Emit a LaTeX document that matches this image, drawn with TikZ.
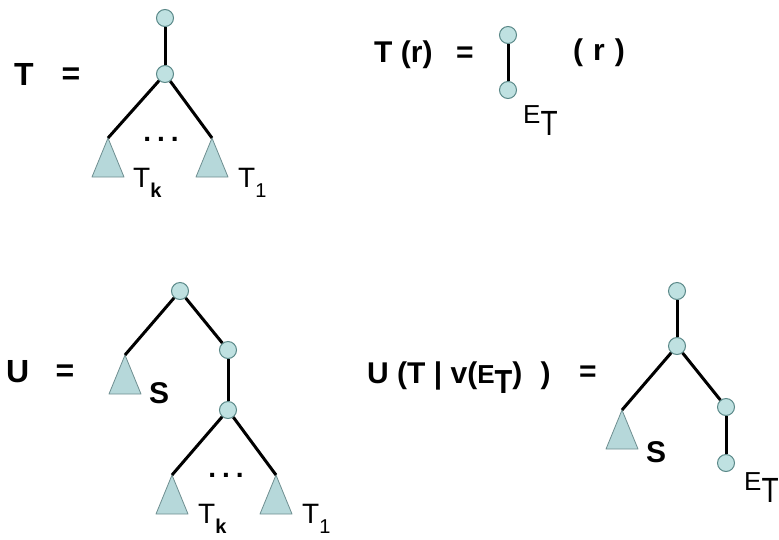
\documentclass[tikz,border=0pt]{standalone}
\usepackage{fontspec}
\setmainfont{Liberation Sans}
\definecolor{cfill}{HTML}{BFE1E1}
\definecolor{cline}{HTML}{5A8888}
\definecolor{tfill}{HTML}{B6D8DA}
\definecolor{tline}{HTML}{6E8E90}
\newcommand\subtri[1]{\draw[tri] (#1) -- ++(-16,39) -- ++(32,0) -- cycle;}
\newcommand\subk{\raisebox{-10pt}{\fontsize{20}{20}\selectfont\bfseries k}}
\newcommand\subone{\raisebox{-10pt}{\fontsize{20}{20}\selectfont 1}}
\newcommand\ET{{\fontsize{26}{26}\selectfont E}\raisebox{-12pt}{\scalebox{1}[1.25]{\fontsize{28}{28}\selectfont T}}}
\begin{document}
\begin{tikzpicture}[x=1pt,y=-1pt,
  vert/.style={circle, draw=cline, fill=cfill, line width=1pt, minimum size=17pt, inner sep=0pt},
  edge/.style={line width=3pt, black},
  tri/.style={draw=tline, fill=tfill, line width=0.8pt, line join=round},
  big/.style={font=\fontsize{30}{32}\selectfont\bfseries, inner sep=0pt},
  huge/.style={font=\fontsize{32}{34}\selectfont\bfseries, inner sep=0pt},
  lab/.style={font=\fontsize{28}{30}\selectfont, inner sep=0pt},
  dots/.style={font=\fontsize{28}{30}\selectfont\bfseries, inner sep=0pt}]
\useasboundingbox (0,0) rectangle (779,539);

% ---------- T = ----------
\node[huge, anchor=base west] (tT) at (14,85) {T};
\node[huge, anchor=base] (tEq) at (71,84) {=};
\node[vert] (a1) at (165,18) {};
\node[vert] (a2) at (165,74) {};
\coordinate (aL) at (108,138);
\coordinate (aR) at (212,138);
\subtri{aL}
\subtri{aR}
\draw[edge] (a1) -- (a2);
\draw[edge] (a2) -- (aL);
\draw[edge] (a2) -- (aR);
\node[dots] (aD) at (161,139) {.\hspace{6pt}.\hspace{6pt}.};
\node[lab, anchor=base west] (aTk) at (133,187) {T\subk};
\node[lab, anchor=base west] (aT1) at (238,187) {T\subone};

% ---------- T(r) = ----------
\node[big, anchor=base west] (rT) at (374,62) {T (r)};
\node[big, anchor=base] (rEq) at (465,62) {=};
\node[vert] (b1) at (508,35) {};
\node[vert] (b2) at (508,90) {};
\draw[edge] (b1) -- (b2);
\node[lab, anchor=base west] (bE) at (523,123) {\ET};
\node[big, anchor=base west] (rR) at (573,60) {(\,\,r\,\,)};

% ---------- U = ----------
\node[huge, anchor=base west] (uU) at (6,382) {U};
\node[huge, anchor=base] (uEq) at (65,381) {=};
\node[vert] (c1) at (180,291) {};
\node[vert] (c2) at (228,350) {};
\node[vert] (c3) at (228,410) {};
\coordinate (cS) at (125,355);
\coordinate (cL) at (172,475);
\coordinate (cR) at (276,475);
\subtri{cS}
\subtri{cL}
\subtri{cR}
\draw[edge] (c1) -- (cS);
\draw[edge] (c1) -- (c2);
\draw[edge] (c2) -- (c3);
\draw[edge] (c3) -- (cL);
\draw[edge] (c3) -- (cR);
\node[big, anchor=base west] (cSl) at (149,403) {S};
\node[dots] (cD) at (226,475) {.\hspace{6pt}.\hspace{6pt}.};
\node[lab, anchor=base west] (cTk) at (198,523) {T\subk};
\node[lab, anchor=base west] (cT1) at (302,523) {T\subone};

% ---------- U(T | v(E_T)) = ----------
\node[big, anchor=base west] (vU) at (367,383)
  {U (T | v({\fontsize{26}{26}\selectfont E}\raisebox{-10pt}{\scalebox{1}[1.15]{\fontsize{29}{29}\selectfont T}})\,\, )};
\node[big, anchor=base] (vEq) at (588,381) {=};
\node[vert] (d1) at (677,291) {};
\node[vert] (d2) at (677,346) {};
\node[vert] (d3) at (726,407) {};
\node[vert] (d4) at (726,463) {};
\coordinate (dS) at (622,410);
\subtri{dS}
\draw[edge] (d1) -- (d2);
\draw[edge] (d2) -- (dS);
\draw[edge] (d2) -- (d3);
\draw[edge] (d3) -- (d4);
\node[big, anchor=base west] (dSl) at (646,462) {S};
\node[lab, anchor=base west] (dE) at (744,490) {\ET};
\end{tikzpicture}
\end{document}
